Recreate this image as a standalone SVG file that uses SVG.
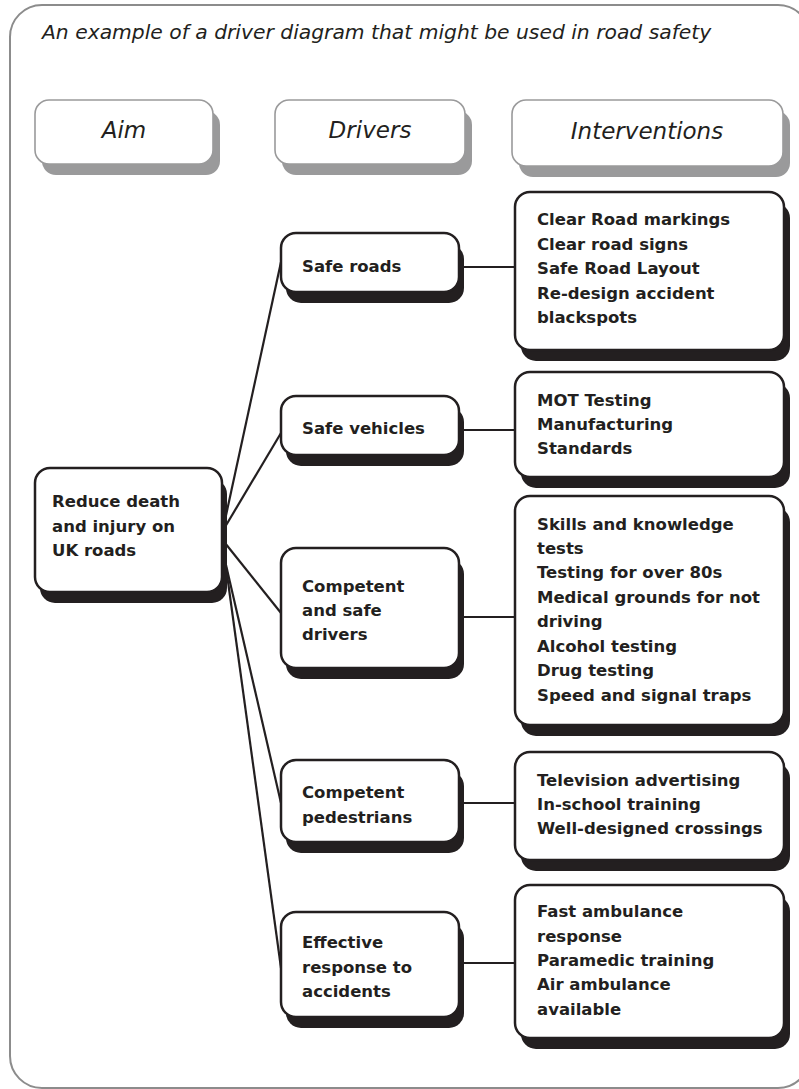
<svg xmlns="http://www.w3.org/2000/svg" width="799" height="1089" viewBox="0 0 799 1089">
<style>
.frame{fill:#fff;stroke:#8c8c8c;stroke-width:2}
.hsh{fill:#9a9a9b}
.hbox{fill:#fff;stroke:#9a9a9b;stroke-width:1.6}
.sh{fill:#231f20}
.box{fill:#fff;stroke:#231f20;stroke-width:2.5}
.t{font-family:"DejaVu Sans",Verdana,sans-serif;font-size:16.5px;font-weight:bold;fill:#231f20}
.ht{font-family:"DejaVu Sans",Verdana,sans-serif;font-size:23px;font-style:italic;fill:#231f20;text-anchor:middle}
.title{font-family:"DejaVu Sans",Verdana,sans-serif;font-size:20.3px;font-style:italic;fill:#231f20}
.c{stroke:#231f20;stroke-width:2.2;fill:none}
</style>
<rect x="0" y="0" width="799" height="1089" fill="#fff"/>
<rect class="frame" x="10" y="5" width="800" height="1083" rx="32"/>
<text class="title" x="42" y="39">An example of a driver diagram that might be used in road safety</text>

<g id="header-aim">
<rect class="hsh" x="42" y="111" width="178" height="64" rx="14"/>
<rect class="hbox" x="35" y="100" width="178" height="64" rx="14"/>
<text class="ht" x="124" y="138">Aim</text>
</g>
<g id="header-drivers">
<rect class="hsh" x="282" y="111" width="190" height="64" rx="14"/>
<rect class="hbox" x="275" y="100" width="190" height="64" rx="14"/>
<text class="ht" x="370" y="138">Drivers</text>
</g>
<g id="header-interventions">
<rect class="hsh" x="519" y="111" width="271" height="66" rx="14"/>
<rect class="hbox" x="512" y="100" width="271" height="66" rx="14"/>
<text class="ht" x="647" y="139">Interventions</text>
</g>

<g id="connectors">
<line class="c" x1="225" y1="520" x2="281" y2="262"/>
<line class="c" x1="225" y1="527" x2="281" y2="433"/>
<line class="c" x1="225" y1="543" x2="281" y2="613"/>
<line class="c" x1="226" y1="565" x2="281" y2="803"/>
<line class="c" x1="226" y1="567" x2="281" y2="968"/>
<line class="c" x1="464" y1="267" x2="515" y2="267"/>
<line class="c" x1="464" y1="430" x2="515" y2="430"/>
<line class="c" x1="464" y1="617" x2="515" y2="617"/>
<line class="c" x1="464" y1="803" x2="515" y2="803"/>
<line class="c" x1="464" y1="963" x2="515" y2="963"/>
</g>

<g id="aim">
<rect class="sh" x="40" y="479" width="187" height="124" rx="15"/>
<rect class="box" x="35" y="468" width="187" height="124" rx="15"/>
<text class="t"><tspan x="52" y="507">Reduce death</tspan><tspan x="52" y="532">and injury on</tspan><tspan x="52" y="556">UK roads</tspan></text>
</g>

<g id="safe-roads">
<rect class="sh" x="286" y="244" width="178" height="59" rx="15"/>
<rect class="box" x="281" y="233" width="178" height="59" rx="15"/>
<text class="t" x="302" y="272">Safe roads</text>
</g>
<g id="safe-vehicles">
<rect class="sh" x="286" y="407" width="178" height="59" rx="15"/>
<rect class="box" x="281" y="396" width="178" height="59" rx="15"/>
<text class="t" x="302" y="434">Safe vehicles</text>
</g>
<g id="competent-drivers">
<rect class="sh" x="286" y="559" width="178" height="120" rx="15"/>
<rect class="box" x="281" y="548" width="178" height="120" rx="15"/>
<text class="t"><tspan x="302" y="592">Competent</tspan><tspan x="302" y="616">and safe</tspan><tspan x="302" y="640">drivers</tspan></text>
</g>
<g id="competent-pedestrians">
<rect class="sh" x="286" y="771" width="178" height="82" rx="15"/>
<rect class="box" x="281" y="760" width="178" height="82" rx="15"/>
<text class="t"><tspan x="302" y="798">Competent</tspan><tspan x="302" y="823">pedestrians</tspan></text>
</g>
<g id="effective-response">
<rect class="sh" x="286" y="923" width="178" height="105" rx="15"/>
<rect class="box" x="281" y="912" width="178" height="105" rx="15"/>
<text class="t"><tspan x="302" y="948">Effective</tspan><tspan x="302" y="973">response to</tspan><tspan x="302" y="997">accidents</tspan></text>
</g>

<g id="int-roads">
<rect class="sh" x="521" y="203" width="269" height="158" rx="15"/>
<rect class="box" x="515" y="192" width="269" height="158" rx="15"/>
<text class="t"><tspan x="537" y="225">Clear Road markings</tspan><tspan x="537" y="249.5">Clear road signs</tspan><tspan x="537" y="274">Safe Road Layout</tspan><tspan x="537" y="298.5">Re-design accident</tspan><tspan x="537" y="323">blackspots</tspan></text>
</g>
<g id="int-vehicles">
<rect class="sh" x="521" y="383" width="269" height="105" rx="15"/>
<rect class="box" x="515" y="372" width="269" height="105" rx="15"/>
<text class="t"><tspan x="537" y="406">MOT Testing</tspan><tspan x="537" y="430">Manufacturing</tspan><tspan x="537" y="454">Standards</tspan></text>
</g>
<g id="int-drivers">
<rect class="sh" x="521" y="507" width="269" height="229" rx="15"/>
<rect class="box" x="515" y="496" width="269" height="229" rx="15"/>
<text class="t"><tspan x="537" y="530">Skills and knowledge</tspan><tspan x="537" y="554">tests</tspan><tspan x="537" y="578">Testing for over 80s</tspan><tspan x="537" y="603">Medical grounds for not</tspan><tspan x="537" y="627">driving</tspan><tspan x="537" y="652">Alcohol testing</tspan><tspan x="537" y="676">Drug testing</tspan><tspan x="537" y="701">Speed and signal traps</tspan></text>
</g>
<g id="int-pedestrians">
<rect class="sh" x="521" y="763" width="269" height="108" rx="15"/>
<rect class="box" x="515" y="752" width="269" height="108" rx="15"/>
<text class="t"><tspan x="537" y="786">Television advertising</tspan><tspan x="537" y="810">In-school training</tspan><tspan x="537" y="834">Well-designed crossings</tspan></text>
</g>
<g id="int-response">
<rect class="sh" x="521" y="896" width="269" height="153" rx="15"/>
<rect class="box" x="515" y="885" width="269" height="153" rx="15"/>
<text class="t"><tspan x="537" y="917">Fast ambulance</tspan><tspan x="537" y="942">response</tspan><tspan x="537" y="966">Paramedic training</tspan><tspan x="537" y="990">Air ambulance</tspan><tspan x="537" y="1015">available</tspan></text>
</g>
</svg>
